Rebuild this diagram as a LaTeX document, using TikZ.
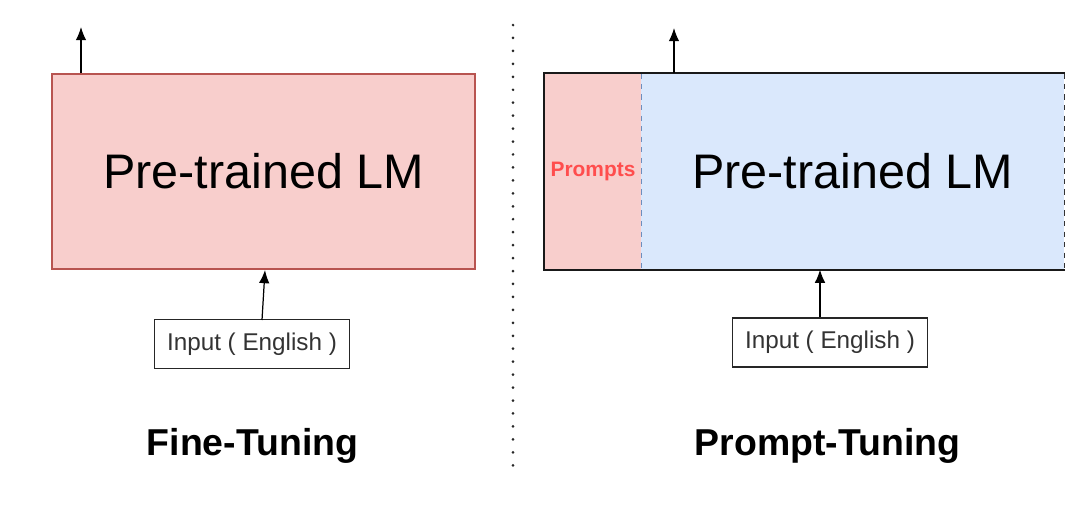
\documentclass[tikz,border=0pt]{standalone}
\usepackage{fontspec}
\setmainfont{Liberation Sans}
\usetikzlibrary{arrows.meta}
\definecolor{pinkfill}{HTML}{F8CECC}
\definecolor{pinkline}{HTML}{B85450}
\definecolor{bluefill}{HTML}{DAE8FC}
\definecolor{blueline}{HTML}{6C8EBF}
\definecolor{promptred}{HTML}{FF4D4D}
\begin{document}
\begin{tikzpicture}[x=0.02cm, y=-0.02cm, >={Latex[length=7.5pt,width=6pt]}, line width=0.7pt,
    lmbox/.style={minimum width=8.46cm, minimum height=3.9cm, inner sep=0pt, font=\fontsize{27.6}{32}\selectfont},
    inbox/.style={draw=black!85, minimum width=3.9cm, minimum height=0.98cm, inner sep=0pt, text=black!80, font=\fontsize{13.8}{16}\selectfont},
    title/.style={anchor=base, font=\bfseries\fontsize{21.3}{25}\selectfont}]
\useasboundingbox (0,0) rectangle (1089,505);

% fine-tuning side
\node (lmL) at (263.5,171.5)[lmbox, fill=pinkfill, draw=pinkline]{Pre-trained LM};
\node (inL) at (252,344)[inbox]{Input ( English )};
\node (ttlL) at (252.5,455)[title]{Fine-Tuning};

% prompt-tuning side
\node (prm) at (593,171.5)[lmbox, minimum width=1.92cm, fill=pinkfill, text=promptred, font=\bfseries\fontsize{11.9}{14}\selectfont]{Prompts};
\node (lmR) at (852.5,171.5)[lmbox, fill=bluefill]{Pre-trained LM};
\draw[blueline, dashed] (prm.north east) -- (prm.south east);
\draw[black!80, dashed] (lmR.north east) -- (lmR.south east);
\draw[black!90, line width=1.1pt] (lmR.north east) -| (prm.south west) -- (lmR.south east);
\node (inR) at (830,342.5)[inbox]{Input ( English )};
\node (ttlR) at (827.5,455)[title]{Prompt-Tuning};

% arrows
\coordinate (outL) at (81,27);
\coordinate (outR) at (674,28);
\coordinate (tailL) at (262,320);
\coordinate (tipL) at (265,270);
\draw[->] (lmL.north -| outL) -- (outL);
\draw[->] (lmR.north -| outR) -- (outR);
\draw[->] (tailL) -- (tipL);
\draw[->] (inR.north -| 820,0) -- (lmR.south -| 820,0);

% divider
\coordinate (dTop) at (513,25);
\coordinate (dBot) at (513,470);
\draw[line width=1.7pt, line cap=round, dash pattern=on 0pt off 7.37pt, black!85] (dTop) -- (dBot);

\end{tikzpicture}
\end{document}
